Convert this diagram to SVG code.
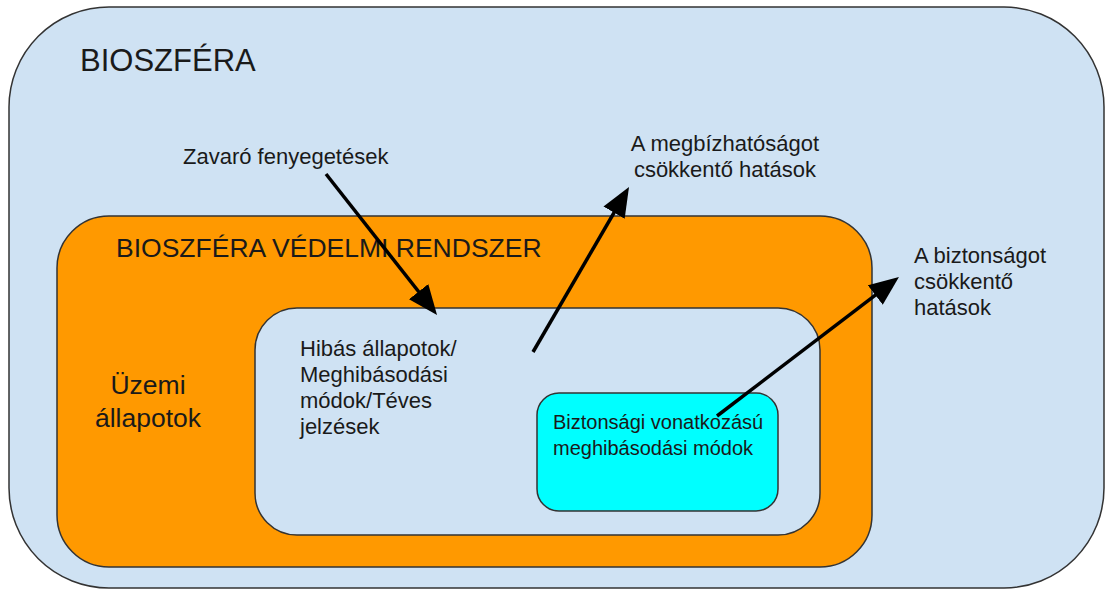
<svg xmlns="http://www.w3.org/2000/svg" width="1107" height="591" viewBox="0 0 1107 591">
<style>
text{font-family:"Liberation Sans",Arial,sans-serif;fill:#1a1a1a}
.box{stroke:#333;stroke-width:1.5}
.ln{stroke:#000;stroke-width:3.5;fill:none}
.t22{font-size:22px}
</style>
<defs>
<marker id="ah" markerWidth="8.5" markerHeight="7" refX="6.5" refY="3.5" orient="auto" markerUnits="strokeWidth">
<path d="M0,0 L8.5,3.5 L0,7 Z" fill="#000"/>
</marker>
</defs>
<rect width="1107" height="591" fill="#fff"/>
<g id="bioszfera">
<rect class="box" x="9" y="7" width="1095" height="581" rx="100" fill="#cfe2f3"/>
<text x="80" y="71" font-size="31">BIOSZFÉRA</text>
</g>
<g id="vedelmi">
<rect class="box" x="57" y="216" width="815" height="351" rx="52" fill="#ff9900"/>
<text x="116" y="257" font-size="26.5">BIOSZFÉRA VÉDELMI RENDSZER</text>
<text x="148" y="394" font-size="26.5" text-anchor="middle">Üzemi</text>
<text x="148" y="427" font-size="26.5" text-anchor="middle">állapotok</text>
</g>
<g id="hibas">
<rect class="box" x="255" y="308" width="565" height="227" rx="42" fill="#cfe2f3"/>
<text x="300" y="356" class="t22">Hibás állapotok/</text>
<text x="300" y="382" class="t22">Meghibásodási</text>
<text x="300" y="408" class="t22">módok/Téves</text>
<text x="300" y="434" class="t22">jelzések</text>
</g>
<g id="biztonsagi">
<rect class="box" x="537" y="393" width="241" height="118" rx="22" fill="#00ffff"/>
<text x="553" y="429" font-size="20">Biztonsági vonatkozású</text>
<text x="553" y="455" font-size="20">meghibásodási módok</text>
</g>
<g id="zavaro">
<text x="183" y="164" class="t22">Zavaró fenyegetések</text>
</g>
<g id="megbizhatosag">
<text x="725" y="151" class="t22" text-anchor="middle">A megbízhatóságot</text>
<text x="725" y="177" class="t22" text-anchor="middle">csökkentő hatások</text>
</g>
<g id="biztonsag">
<text x="914" y="263" class="t22">A biztonságot</text>
<text x="914" y="289" class="t22">csökkentő</text>
<text x="914" y="315" class="t22">hatások</text>
</g>
<g id="connectors">
<line class="ln" x1="326" y1="174" x2="432.7" y2="309.5" marker-end="url(#ah)"/>
<line class="ln" x1="533" y1="352" x2="625.5" y2="193" marker-end="url(#ah)"/>
<line class="ln" x1="717" y1="416" x2="893.4" y2="281.3" marker-end="url(#ah)"/>
</g>
</svg>
